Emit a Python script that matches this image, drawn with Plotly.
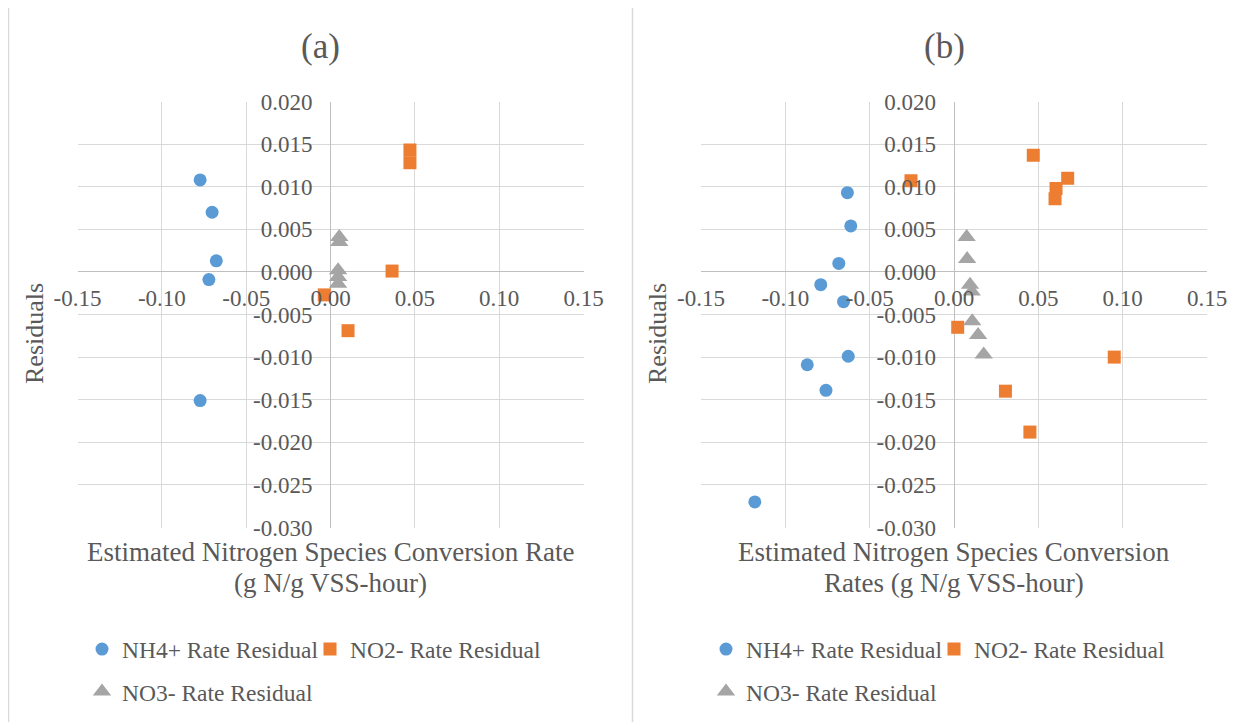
import plotly.graph_objects as go

# ---------------- data ----------------
a_nh4_x = [-0.0773, -0.0702, -0.0677, -0.0721, -0.0773]
a_nh4_y = [0.0108, 0.0070, 0.0013, -0.0009, -0.0151]
a_no2_x = [0.0471, 0.0471, 0.0365, -0.0037, 0.0104]
a_no2_y = [0.0143, 0.0128, 0.0001, -0.0027, -0.0069]
a_no3_x = [0.0052, 0.0052, 0.0045, 0.0045, 0.0045]
a_no3_y = [0.0041, 0.0035, 0.0002, -0.0006, -0.0014]

b_nh4_x = [-0.0632, -0.0612, -0.0683, -0.0790, -0.0655, -0.0627, -0.0870, -0.0759, -0.1181]
b_nh4_y = [0.0093, 0.0054, 0.0010, -0.0015, -0.0035, -0.0099, -0.0109, -0.0139, -0.0270]
b_no2_x = [-0.0255, 0.0470, 0.0674, 0.0605, 0.0599, 0.0022, 0.0950, 0.0305, 0.0450]
b_no2_y = [0.0107, 0.0137, 0.0110, 0.0098, 0.0086, -0.0065, -0.0100, -0.0140, -0.0188]
b_no3_x = [0.0075, 0.0078, 0.0095, 0.0105, 0.0108, 0.0143, 0.0176]
b_no3_y = [0.0041, 0.0015, -0.0015, -0.0023, -0.0058, -0.0074, -0.0097]

x_tickvals = [-0.15, -0.10, -0.05, 0.00, 0.05, 0.10, 0.15]
x_ticktext = ["-0.15", "-0.10", "-0.05", "0.00", "0.05", "0.10", "0.15"]
y_tickvals = [0.020, 0.015, 0.010, 0.005, 0.000, -0.005, -0.010, -0.015, -0.020, -0.025, -0.030]
y_ticktext = ["0.020", "0.015", "0.010", "0.005", "0.000", "-0.005", "-0.010",
              "-0.015", "-0.020", "-0.025", "-0.030"]

series_names = ["NH4+ Rate Residual", "NO2- Rate Residual", "NO3- Rate Residual"]
titles = ["(a)", "(b)"]
xtitle_a = ["Estimated Nitrogen Species Conversion Rate", "(g N/g VSS-hour)"]
xtitle_b = ["Estimated Nitrogen Species Conversion", "Rates (g N/g VSS-hour)"]
ytitle = "Residuals"

# ---------------- style ----------------
W, H = 1252, 722
OFF = 8  # page body margin offset of the rendered figure
FONT = "Liberation Serif"
TXT = "#595959"
GRID = "#d9d9d9"
AXIS = "#bfbfbf"
C_BLUE, C_ORANGE, C_GRAY = "#5b9bd5", "#ed7d31", "#a5a5a5"
XR = [-0.15, 0.15]
YR = [-0.030, 0.020]

def px(v):
    return (v - OFF) / W

def py(v):
    return (H - (v - OFF)) / H

xdom_a = [px(77.5), px(583.5)]
xdom_b = [px(701), px(1207)]
ydom = [py(527.5), py(101.5)]

def zero_pos(dom, rng):
    return dom[0] + (0 - rng[0]) / (rng[1] - rng[0]) * (dom[1] - dom[0])

fig = go.Figure()

def add(xs, ys, name, color, symbol, size, xa, ya, legend):
    fig.add_trace(go.Scatter(
        x=xs, y=ys, mode="markers", name=name,
        marker=dict(color=color, symbol=symbol, size=size, line=dict(width=0)),
        xaxis=xa, yaxis=ya, legend=legend, showlegend=True,
    ))

add(a_nh4_x, a_nh4_y, series_names[0], C_BLUE, "circle", 13, "x", "y", "legend")
add(a_no2_x, a_no2_y, series_names[1], C_ORANGE, "square", 13, "x", "y", "legend2")
add(a_no3_x, a_no3_y, series_names[2], C_GRAY, "triangle-up", 16, "x", "y", "legend3")
add(b_nh4_x, b_nh4_y, series_names[0], C_BLUE, "circle", 13, "x2", "y2", "legend4")
add(b_no2_x, b_no2_y, series_names[1], C_ORANGE, "square", 13, "x2", "y2", "legend5")
add(b_no3_x, b_no3_y, series_names[2], C_GRAY, "triangle-up", 16, "x2", "y2", "legend6")

tick_font = dict(family=FONT, size=23, color=TXT)

def xaxis(dom):
    return dict(domain=dom, range=XR, anchor="free", position=zero_pos(ydom, YR),
                tickvals=x_tickvals, ticktext=x_ticktext, tickfont=tick_font,
                ticklabelstandoff=10,
                showgrid=True, gridcolor=GRID, gridwidth=1,
                zeroline=True, zerolinecolor=AXIS, zerolinewidth=1,
                showline=False, ticks="", fixedrange=True, automargin=False)

def yaxis(xdom):
    return dict(domain=ydom, range=YR, anchor="free", position=zero_pos(xdom, XR),
                tickvals=y_tickvals, ticktext=y_ticktext, tickfont=tick_font,
                ticklabelstandoff=18,
                showgrid=True, gridcolor=GRID, gridwidth=1,
                zeroline=True, zerolinecolor=AXIS, zerolinewidth=1,
                showline=False, ticks="", fixedrange=True, automargin=False)

leg_font = dict(family=FONT, size=23.5, color=TXT)

def legend(x_text, y_center):
    return dict(orientation="h", x=px(x_text - 40), y=py(y_center),
                xanchor="left", yanchor="middle", font=leg_font,
                bgcolor="rgba(0,0,0,0)", borderwidth=0, itemwidth=30,
                itemclick=False, itemdoubleclick=False)

ann = []
ann.append(dict(text=titles[0], x=px(320), y=py(46.5), xref="paper", yref="paper",
                showarrow=False, xanchor="center", yanchor="middle",
                font=dict(family=FONT, size=35, color=TXT)))
ann.append(dict(text=titles[1], x=px(944), y=py(46.5), xref="paper", yref="paper",
                showarrow=False, xanchor="center", yanchor="middle",
                font=dict(family=FONT, size=35, color=TXT)))
for lines, cx in ((xtitle_a, 330.5), (xtitle_b, 954)):
    for line, cy in zip(lines, (551.7, 583.3)):
        ann.append(dict(text=line, x=px(cx), y=py(cy), xref="paper", yref="paper",
                        showarrow=False, xanchor="center", yanchor="middle",
                        font=dict(family=FONT, size=27, color=TXT)))
for cx in (34, 657):
    ann.append(dict(text=ytitle, x=px(cx), y=py(334), xref="paper", yref="paper",
                    showarrow=False, xanchor="center", yanchor="middle", textangle=-90,
                    font=dict(family=FONT, size=26, color=TXT)))

border = dict(color=GRID, width=1.5)
shapes = [
    dict(type="line", xref="paper", yref="paper", x0=px(8.5), x1=1, y0=py(5.5), y1=py(5.5), line=border),
    dict(type="line", xref="paper", yref="paper", x0=px(8.5), x1=px(8.5), y0=py(5.5), y1=0, line=border),
    dict(type="line", xref="paper", yref="paper", x0=px(632.5), x1=px(632.5), y0=py(5.5), y1=0, line=border),
]

ROW1, ROW2 = 649.3, 691.7
fig.update_layout(
    width=W, height=H, margin=dict(l=0, r=0, t=0, b=0, pad=0, autoexpand=False),
    paper_bgcolor="white", plot_bgcolor="white",
    font=dict(family=FONT, color=TXT),
    xaxis=xaxis(xdom_a), yaxis=yaxis(xdom_a),
    xaxis2=xaxis(xdom_b), yaxis2=yaxis(xdom_b),
    legend=legend(122, ROW1),
    legend2=legend(350, ROW1),
    legend3=legend(122, ROW2),
    legend4=legend(746, ROW1),
    legend5=legend(974, ROW1),
    legend6=legend(746, ROW2),
    annotations=ann, shapes=shapes,
)

fig.write_html("out.html")
